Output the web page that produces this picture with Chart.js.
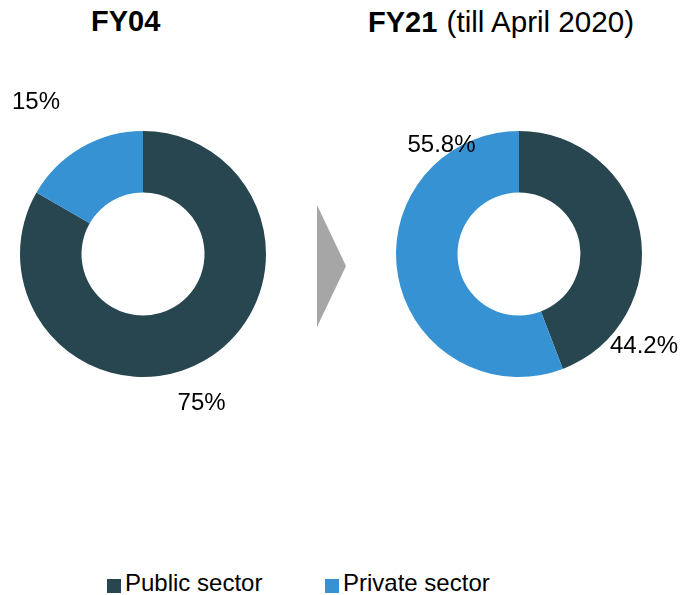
<!DOCTYPE html>
<html>
<head>
<meta charset="utf-8">
<script src="https://cdn.jsdelivr.net/npm/chart.js@4.4.1/dist/chart.umd.min.js"></script>
<style>
  html, body { margin: 0; padding: 0; background: #ffffff; }
  body { width: 680px; height: 595px; position: relative; overflow: hidden; font-family: "Liberation Sans", Arial, sans-serif; color: #000; }
  canvas { position: absolute; }
  .title { position: absolute; font-size: 29px; line-height: 29px; white-space: pre; }
  .title .rest { margin-left: 1px; font-size: 29.6px; }
  .legend { position: absolute; top: 571px; font-size: 24px; line-height: 24px; white-space: nowrap; display: flex; align-items: flex-end; }
  .legend .box { width: 14px; height: 14px; margin-right: 4px; margin-bottom: 2px; }
  svg { position: absolute; left: 0; top: 0; }
</style>
</head>
<body>
<div class="title" id="t1" style="left:91px; top:7px;"></div>
<div class="title" id="t2" style="left:368px; top:7px;"></div>
<svg width="680" height="595"><polygon points="317,205 346,266 317,327" fill="#A6A6A6"/></svg>
<canvas id="c1" width="340" height="470" style="left:0; top:0;"></canvas>
<canvas id="c2" width="340" height="470" style="left:340px; top:0;"></canvas>
<div class="legend" id="lg1" style="left:107px;"></div>
<div class="legend" id="lg2" style="left:325px;"></div>
<script>
// ---- data ----
const categories = ["Public sector", "Private sector"];
const colors = ["#28464F", "#3692D2"];
const fy04Values = [75, 15];
const fy21Values = [44.2, 55.8];
const titleBold = ["FY04", "FY21"];
const titleRest = ["", " (till April 2020)"];
// label offsets relative to arc centre, in units of outer radius (baseline, centred text)
const fy04LabelPos = [[0.476, 1.268], [-0.870, -1.179]];
const fy21LabelPos = [[1.016, 0.805], [-0.630, -0.829]];

// titles
[["t1", 0], ["t2", 1]].forEach(([id, i]) => {
  const el = document.getElementById(id);
  const b = document.createElement("b");
  b.textContent = titleBold[i];
  el.appendChild(b);
  if (titleRest[i]) {
    const s = document.createElement("span");
    s.className = "rest";
    s.textContent = titleRest[i];
    el.appendChild(s);
  }
});

// legend
["lg1", "lg2"].forEach((id, i) => {
  const el = document.getElementById(id);
  const box = document.createElement("span");
  box.className = "box";
  box.style.background = colors[i];
  const txt = document.createElement("span");
  txt.textContent = categories[i];
  el.appendChild(box);
  el.appendChild(txt);
});

const labelPlugin = {
  id: "pctLabels",
  afterDatasetsDraw(chart, args, opts) {
    const ctx = chart.ctx;
    const meta = chart.getDatasetMeta(0);
    const data = chart.data.datasets[0].data;
    ctx.save();
    ctx.font = '24px "Liberation Sans", Arial, sans-serif';
    ctx.fillStyle = "#000";
    ctx.textAlign = "center";
    ctx.textBaseline = "alphabetic";
    meta.data.forEach((arc, i) => {
      const p = opts.pos[i];
      const r = arc.outerRadius;
      ctx.fillText(data[i] + "%", arc.x + p[0] * r, arc.y + p[1] * r);
    });
    ctx.restore();
  }
};

function makeChart(id, values, pos, padding) {
  return new Chart(document.getElementById(id), {
    type: "doughnut",
    data: {
      labels: categories,
      datasets: [{ data: values, backgroundColor: colors, borderWidth: 0, hoverOffset: 0 }]
    },
    options: {
      responsive: false,
      animation: false,
      cutout: "50%",
      layout: { padding: padding },
      plugins: {
        legend: { display: false },
        tooltip: { enabled: false },
        pctLabels: { pos: pos }
      },
      events: []
    },
    plugins: [labelPlugin]
  });
}

makeChart("c1", fy04Values, fy04LabelPos, { left: 20, top: 131, right: 74, bottom: 93 });
makeChart("c2", fy21Values, fy21LabelPos, { left: 56, top: 131, right: 38, bottom: 93 });
</script>
</body>
</html>
